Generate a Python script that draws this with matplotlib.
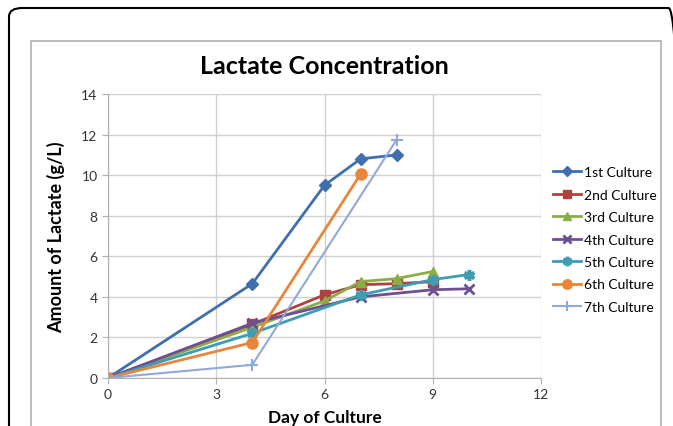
import matplotlib
matplotlib.use("Agg")
import matplotlib.pyplot as plt
from matplotlib.patches import FancyBboxPatch, Rectangle

plt.rcParams['font.family'] = ['Lato', 'DejaVu Sans']

# culture data (day, lactate g/L)
days1 = [0, 4, 6, 7, 8]
lac1 = [0, 4.65, 9.5, 10.8, 11.0]
days2 = [0, 4, 6, 7, 8, 9]
lac2 = [0, 2.65, 4.1, 4.6, 4.65, 4.75]
days3 = [0, 4, 6, 7, 8, 9]
lac3 = [0, 2.5, 3.8, 4.75, 4.9, 5.25]
days4 = [0, 4, 7, 9, 10]
lac4 = [0, 2.7, 4.0, 4.35, 4.4]
days5 = [0, 4, 7, 9, 10]
lac5 = [0, 2.2, 4.1, 4.85, 5.1]
days6 = [0, 4, 7]
lac6 = [0, 1.75, 10.05]
days7 = [0, 4, 8]
lac7 = [0, 0.65, 11.75]

labels = ['1st Culture', '2nd Culture', '3rd Culture', '4th Culture',
          '5th Culture', '6th Culture', '7th Culture']
colors = ['#3f6fae', '#b0413e', '#8aad48', '#6e4f92', '#3e9cb3', '#e8863b', '#8faad8']

fig = plt.figure(figsize=(6.73, 4.27), dpi=100)

# outer card border and chart area border
fig.patches.append(FancyBboxPatch((9/673, -0.2), 1.0, 1.2 - 9/427,
                                  boxstyle="round,pad=0,rounding_size=0.02",
                                  transform=fig.transFigure, fill=False,
                                  edgecolor='black', linewidth=1.5))
fig.patches.append(Rectangle((31/673, -0.1), (661-31)/673, 1.1 - 42/427,
                             transform=fig.transFigure, fill=False,
                             edgecolor='#b0b0b0', linewidth=1.2))

ax = fig.add_axes([108/673, 48/427, (541-108)/673, (379-95)/427])

ax.plot(days1, lac1, color=colors[0], marker='D', markersize=6, lw=2, label=labels[0])
ax.plot(days2, lac2, color=colors[1], marker='s', markersize=7, lw=2, label=labels[1])
ax.plot(days3, lac3, color=colors[2], marker='^', markersize=7, lw=2, label=labels[2])
ax.plot(days4, lac4, color=colors[3], marker='x', markersize=7, mew=2, lw=2, label=labels[3])
ax.plot(days5, lac5, color=colors[4], marker=(6, 2, 0), markersize=8, mew=2.5, lw=2, label=labels[4])
ax.plot(days6, lac6, color=colors[5], marker='o', markersize=8, lw=2, label=labels[5])
ax.plot(days7, lac7, color=colors[6], marker='+', markersize=8, mew=1.5, lw=1.5, label=labels[6])

ax.set_xlim(0, 12)
ax.set_ylim(0, 14)
ax.set_xticks([0, 3, 6, 9, 12])
ax.set_yticks(range(0, 15, 2))
ax.grid(True, color='#d0d0d0', linewidth=1)
ax.set_axisbelow(True)
for s in ['top', 'right']:
    ax.spines[s].set_visible(False)
for s in ['left', 'bottom']:
    ax.spines[s].set_color('#b0b0b0')
ax.tick_params(colors='#b0b0b0', labelcolor='#333333', labelsize=10, length=4)

ax.set_title('Lactate Concentration', fontsize=18, fontweight='bold', pad=15)
ax.set_xlabel('Day of Culture', fontsize=12.5, fontweight='bold', labelpad=6)
ax.set_ylabel('Amount of Lactate (g/L)', fontsize=13, fontweight='bold', labelpad=12)

ax.legend(loc='upper left', bbox_to_anchor=(1.015, 0.765), frameon=False,
          fontsize=10, handlelength=2.0, handletextpad=0.2, labelspacing=0.75,
          markerscale=0.85, borderaxespad=0)

fig.savefig('out.png', dpi=100)
